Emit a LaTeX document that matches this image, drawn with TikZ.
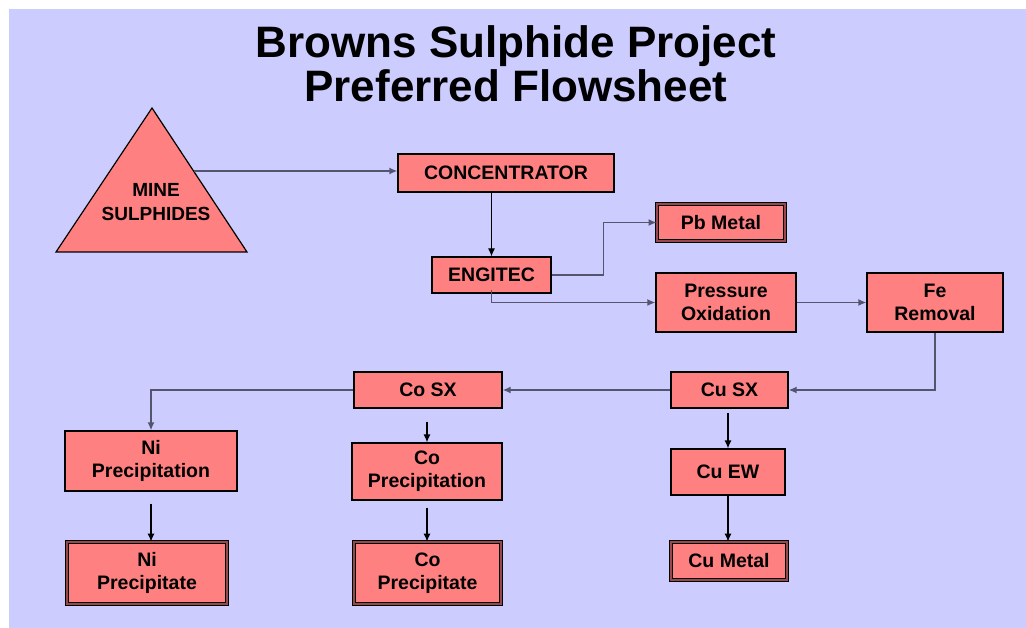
\documentclass[tikz,border=0pt]{standalone}
\usepackage{fontspec}
\setmainfont{Liberation Sans}
\usepackage{xcolor}
\definecolor{lavender}{RGB}{204, 204, 255}
\definecolor{salmon}{RGB}{255, 128, 128}
\definecolor{framered}{RGB}{150, 72, 76}
\definecolor{pipegray}{RGB}{84, 84, 110}
\usepackage{tikz}
\usetikzlibrary{
    arrows.meta,
    positioning,
    calc
}

\begin{document}
\begin{tikzpicture}[
    x=1pt, y=-1pt,
    >={Latex[length=8pt, width=7pt]},
    every text node part/.style={align=center},
    box/.style={draw=black, line width=1.2pt, fill=salmon, inner sep=2pt,
        font=\bfseries\fontsize{19.5}{23}\selectfont},
    prodbox/.style={box, line width=0.8pt, double=framered, double distance=2.6pt},
    flow/.style={draw=black, line width=1.2pt, ->},
    pipe/.style={draw=pipegray, line width=1.6pt, ->}
]

% ==================== CANVAS ====================
\useasboundingbox (0,0) rectangle (1026,628);
\fill[lavender] (9,9) rectangle (1026,628);

% ==================== TITLE ====================
\node[anchor=north, inner sep=0pt,
    font=\bfseries\fontsize{44}{44}\selectfont] (title) at (516,25) {
    Browns Sulphide Project\\
    Preferred Flowsheet
};

% ==================== MINE ====================
\filldraw[fill=salmon, draw=black, line width=1.2pt]
    (152,108) -- (247,252) -- (56,252) -- cycle;
\node[font=\bfseries\fontsize{19}{24}\selectfont, inner sep=0pt] (mine) at (156,202) {
    MINE\\
    SULPHIDES
};
\coordinate (mine_out) at (194,171);

% ==================== CONCENTRATOR & ENGITEC ====================
\node[box, minimum width=216, minimum height=38] (conc) at (506,173) {CONCENTRATOR};
\node[box, minimum width=119, minimum height=36] (engitec) at (491.5,275) {ENGITEC};
\node[prodbox, minimum width=128, minimum height=37] (pb) at (721,222.5) {Pb Metal};

\draw[pipe] (mine_out) -- (mine_out -| conc.west);
\draw[flow] (engitec.north |- conc.south) -- (engitec.north);
\draw[pipe] (engitec.east) -- ++(52,0) |- (pb.west);

% ==================== OXIDATION & IRON ====================
\node[box, minimum width=140, minimum height=59] (pox) at (726,302.5) {
    Pressure\\ Oxidation
};
\node[box, minimum width=136, minimum height=59] (fe) at (935,302.5) {
    Fe\\ Removal
};

\draw[pipe] ([yshift=4]engitec.south) |- (pox.west);
\draw[pipe] (pox.east) -- (fe.west);

% ==================== COPPER LINE ====================
\node[box, minimum width=117, minimum height=36] (cusx) at (729.5,390) {Cu SX};
\node[box, minimum width=114, minimum height=46] (cuew) at (728,472) {Cu EW};
\node[prodbox, minimum width=116, minimum height=38] (cumetal) at (729,561) {Cu Metal};

\draw[pipe] (fe.south) |- (cusx.east);
\draw[flow, shorten <=4pt] (cuew.north |- cusx.south) -- (cuew.north);
\draw[flow] (cuew.south) -- (cuew.south |- cumetal.north);

% ==================== COBALT LINE ====================
\node[box, minimum width=148, minimum height=36] (cosx) at (428,390) {Co SX};
\node[box, minimum width=150, minimum height=57] (coppn) at (427,471.5) {
    Co\\ Precipitation
};
\node[prodbox, minimum width=147, minimum height=62] (coppte) at (427.5,573) {
    Co\\ Precipitate
};

\draw[pipe] (cusx.west) -- (cosx.east);
\draw[flow, shorten <=13pt] (coppn.north |- cosx.south) -- (coppn.north);
\draw[flow, shorten <=7pt] (coppn.south) -- (coppn.south |- coppte.north);

% ==================== NICKEL LINE ====================
\node[box, minimum width=172, minimum height=60] (nippn) at (151,461) {
    Ni\\ Precipitation
};
\node[prodbox, minimum width=160, minimum height=62] (nippte) at (147,573) {
    Ni\\ Precipitate
};

\draw[pipe] (cosx.west) -| (nippn.north);
\draw[flow, shorten <=12pt] (nippn.south) -- (nippn.south |- nippte.north);

\end{tikzpicture}
\end{document}
